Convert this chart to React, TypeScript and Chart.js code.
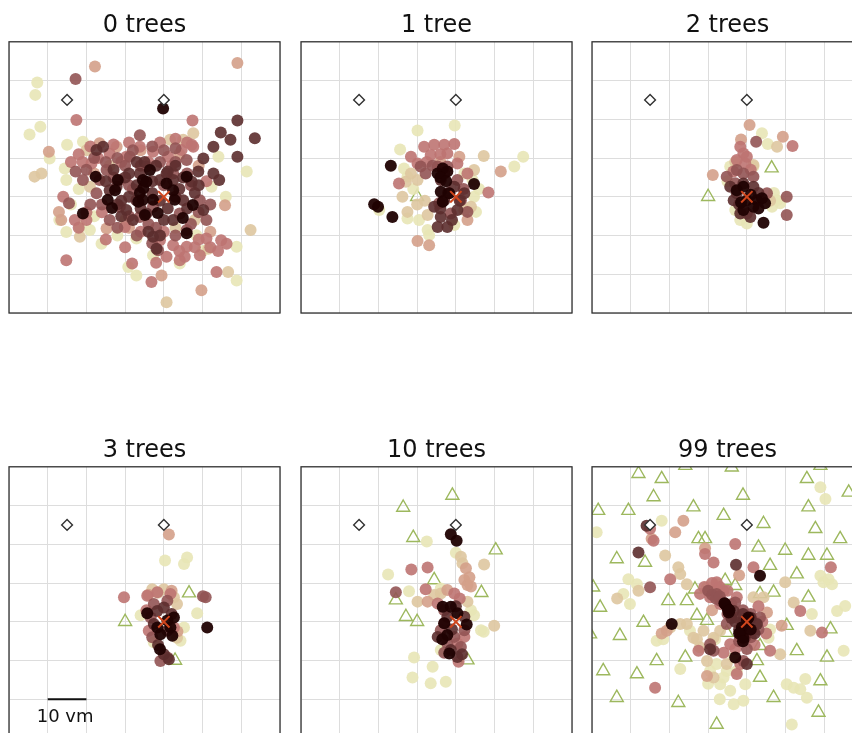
import React, { useEffect, useRef } from 'react';
import { Chart, registerables } from 'chart.js';

Chart.register(...registerables);

type Pt = number[];

// ---- fixed markers (same in every panel) ----
const FEEDERS: Pt[] = [[-25, 25], [0, 25]];
const TARGET: Pt[] = [[0, 0]];

// ---- scale bar (panel "3 trees") ----
const SCALE_BAR: Pt[] = [[-30, -20], [-20, -20]];
const SCALE_LABEL = '10 vm';
const SCALE_LABEL_POS: Pt = [-25.5, -25.8];

// ---- titles ----
const TITLES = ['0 trees', '1 tree', '2 trees', '3 trees', '10 trees', '99 trees'];

// ---- tree positions ----
const TREES_0: Pt[] = [];
const TREES_1: Pt[] = [[-10, 0]];
const TREES_2: Pt[] = [[-10, 0], [6.4, 7.4]];
const TREES_3: Pt[] = [[-10, 0], [6.5, 7.4], [2.9, -10]];
const TREES_10: Pt[] = [[-10, 0], [6.6, 7.5], [3, -9.9], [-0.9, 32.6], [-13.6, 29.5], [-11, 21.7], [10.3, 18.5], [-5.6, 10.8], [-15.5, 5.6], [-12.9, 1.3]];
const TREES_99: Pt[] = [
  [-28, 38.2], [-22, 36.9], [-15.9, 40.3], [-3.9, 39.9], [15.5, 36.9], [19, 40.3], [26.3, 33.4], [-24.1, 32.2], [-1, 32.6],
  [-38.4, 28.7], [-30.6, 28.7], [-13.8, 29.6], [-6, 27.4], [15.9, 29.6], [4.3, 25.3], [17.7, 24], [-12.5, 21.4], [-10.8, 21.4],
  [24.1, 21.4], [3, 19.2], [9.9, 18.4], [15.9, 17.1], [20.7, 17.1], [-33.6, 16.2], [-26.3, 15.3], [6, 14.5], [12.9, 12.3],
  [-39.7, 8.9], [-5.6, 10.6], [-3, 9.3], [-13.4, 8.4], [3.4, 7.2], [6.9, 7.6], [15.9, 6.3], [-37.9, 3.7], [-20.3, 5.4],
  [-15.5, 5.4], [-12.9, 1.6], [-10.3, 0.3], [-26.7, -0.2], [10.3, -1], [21.6, -1.9], [-32.8, -3.6], [-40.5, -3.2], [-5.2, -2.8],
  [3.4, -6.2], [12.9, -7.5], [-15.9, -9.2], [-23.3, -10.1], [2.6, -10.1], [20.7, -9.2], [-37.1, -12.7], [-28.4, -13.5],
  [3.4, -14.4], [19, -15.3], [-33.6, -19.6], [-17.7, -20.9], [6.9, -19.6], [18.5, -23.4], [-7.8, -26.5]
];

// ---- position samples, by colour level (L0 lightest ... L6 darkest) ----
// 0 trees
const P0_L0: Pt[] = [[-32.7, 29.5], [-33.2, 26.3], [-34.7, 16.1], [-31.9, 18.1], [-25, 13.4], [-29.5, 9.9], [-20.9, 14.2], [-25.6, 7.3], [-25.2, 4.3], [-25.2, -9.1], [-21.7, -7.8], [-16.1, -12.1], [-7.1, -10.8], [-9.2, -18.1], [-7.1, -20.3], [18.8, -21.6], [18.8, -12.9], [21.4, 6.5], [12.3, 2.6], [14.1, 10.3], [4.1, -17.2], [-19.1, -8.6], [8.4, -9.9], [-2.8, -15.1], [-22, 2], [-18, -5], [-12, -10], [10, -14], [16, 0], [-24, -2], [-27, -6]];
const P0_L1: Pt[] = [[-33.4, 5.2], [-31.6, 6], [-19.1, 2.6], [-20, 12], [11.5, -13.4], [7.6, 16.4], [1.6, 14.7], [5, 14.7], [-21.7, -10.3], [0.7, -27.2], [16.6, -19.4], [22.4, -8.6], [-14, 8], [-10, -6], [8, -6], [3, -8]];
const P0_L2: Pt[] = [[-17.8, 33.6], [19, 34.5], [-29.7, 11.6], [-27.1, -3.9], [-26.5, -6], [-14.8, -8.2], [-0.6, -20.3], [9.7, -24.1], [15.8, -2.2], [-16.6, 13.8], [-12.2, 12.9], [-6, 12], [4, 11], [9, 8], [-18, 6], [-9, -8], [12, -9]];
const P0_L3: Pt[] = [[-22.6, 19.8], [-25.2, -16.4], [-8.2, -17.2], [-3.2, -22], [7.4, 19.7], [7.2, 13.4], [4.1, -16.4], [5.4, -15.5], [9.3, -15.1], [13.6, -19.4], [16.2, -12.1], [14.8, -11.2], [11, -10.8], [-10.1, -7.8], [-14, 11.2], [-9.7, 10.3], [-6.2, 12.9], [-2.8, 11.6], [1.1, 10.3], [4.6, 12.1], [7.6, 12.9], [-1, -11.2], [2.4, -12.5], [5.9, -12.9], [0.7, -15.5], [-18.7, 8.6], [-21, 9], [-17, 10], [-11, 9], [-4, 9], [2, 8], [-20, -6], [-16, -4], [-6, -9], [0, -9], [9, -11], [11, 4], [-23, -6], [-19, 13], [-13, 13.5], [-9, 14], [-1, 14], [3, 15], [6, 14], [-22, 11], [-24, 9], [-22, -8], [-15, -11], [-10, -13], [-2, -17], [4, -14], [8, -13], [12, -13], [14, -14], [-26, 0], [-20, -4]];
const P0_L4: Pt[] = [[-22.8, 30.4], [-6.2, 15.9], [-22.8, 6.5], [-24.5, -1.7], [-1.5, -13.8], [-17.4, 0.9], [-20.9, 4.3], [-14.8, 6.9], [-11.4, 4.3], [-8.8, 10.3], [-4.5, 7.8], [2.4, 6], [5.9, 9.5], [9.3, -0.9], [11, -6], [5.9, -8.6], [-6.2, -5.2], [-11.4, -2.6], [-14, -6], [-16.6, 4.3], [-2.8, -2.6], [4.1, -4.3], [-8, 2], [0, 3], [-4, -7], [7, 3], [-10, 8], [-18, 10], [-15, 9], [-12, 10], [-8, 12], [-3, 13], [0, 12], [3, 12.5], [-20, 7], [-13, 5], [-9, 3], [-6, 8], [-1, 9], [3, 9], [6, 6], [-19, -2], [-16, -2], [-9, -5], [-7, -10], [-3, -12], [3, -10], [7, -7], [-12, -8], [9, -4], [12, -2], [-2, -8]];
const P0_L5: Pt[] = [[19, 19.7], [14.7, 16.6], [17.2, 14.7], [23.5, 15.1], [12.8, 12.9], [19, 10.3], [10.2, 9.9], [8.9, 6.5], [12.8, 6], [14.3, 4.3], [7.2, 3.9], [10.2, -3.4], [-2.8, -10.3], [-1.9, -13.4], [-9.7, -3.4], [-7.1, -0.9], [2.4, 4.3], [-1, 4.3], [0.7, 6], [-6.2, 6], [-12.2, 2.6], [-14, 1.7], [-17.4, 12.1], [-15.7, 12.9], [5, -0.9], [2.4, -6], [-4.5, -4.3], [-9, 6], [-3, 1], [-6, -3], [1, -3], [-11, -1], [4, 2], [-7, 3], [-3, 4], [-9, 0], [-10, 5], [-5, 9], [-2, 8], [1, 6.5], [3, 0], [-1, -1], [-8, -6], [-4, -9], [0, -6], [6, -3], [-13, 7], [-15, 4], [8, 1], [-1, -10], [-11, -5], [5, 5], [9, 3], [3, 8], [-7, 9], [-12, -2]];
const P0_L6: Pt[] = [[-0.2, 22.8], [-17.6, 5.2], [-20.9, -4.3], [-11.9, 4.3], [-12.6, 1.7], [-14.5, -0.8], [-13.4, -2.9], [-3.6, 6.9], [-5.4, 4.3], [-5.3, 2.2], [-6.2, 1], [-5.4, -0.8], [-2.8, -0.8], [-1.6, -4.2], [2.8, -0.8], [7.5, -2.1], [4.9, -5.5], [-4.9, -4.7], [5.9, -9.4], [0.7, 3.4], [2.4, 1.7], [5.9, 5.2], [-4.5, 3.9], [-6.6, -1.3]];

// 1 tree
const P1_L0: Pt[] = [[-9.9, 17.1], [-0.3, 18.4], [-14.4, 12.2], [17.4, 10.3], [15.1, 7.8], [-13.4, 7.3], [-12.5, 5.2], [4.3, 4.3], [4.7, 0], [5.2, -3.9], [-19.8, -3.4], [-12.5, -5.6], [-9.5, -6], [-7.3, -8.6], [-6.9, -9.9], [-0.4, -7.3], [2.2, 6], [-11, 2], [6, 2]];
const P1_L1: Pt[] = [[7.2, 10.5], [4.7, 6.9], [-12.9, 3.9], [-13.8, 0], [-12.5, -3.9], [-7.3, -4.7], [-9.9, 4.3], [-11.6, 6], [2.2, -3.4], [3.9, -2.6], [-10, -2], [-8, -1]];
const P1_L2: Pt[] = [[11.6, 6.5], [-9.9, -11.4], [-6.9, -12.5], [0.9, 10.3], [-4, 9], [3, -6]];
const P1_L3: Pt[] = [[-14.7, 3.4], [8.4, 1.1], [-8.2, 12.9], [-5.6, 13.4], [-3, 13.4], [-0.4, 13.6], [-6.5, 10.8], [-11.6, 10.3], [-9.9, 8.6], [3, 6], [-2.2, 11.2], [0.4, 8.6], [-7.5, 9], [-4, 11]];
const P1_L4: Pt[] = [[3, -3.9], [-9.1, 7.8], [-7.8, 6], [-4.7, 7.8], [-2.2, 7.8], [0.4, 4.3], [-1.3, -4.3], [-4.3, -1.7], [1.3, -0.9], [-6, 8], [2, 2]];
const P1_L5: Pt[] = [[-3.9, 4.3], [-3, -0.9], [-3.9, -5.2], [-2.2, -7.8], [-4.7, -7.8], [0.4, -3.4], [2.2, 0.9], [-0.4, 2.6], [-5.6, -2.6], [-3, 6], [-1, -6], [-4, -3], [1, -1], [-2, 1]];
const P1_L6: Pt[] = [[-16.8, 8], [-21.1, -1.9], [-20.1, -2.6], [-16.4, -5.2], [4.7, 3.3], [-4.7, 6], [-3.4, 7.3], [-2.2, 6.5], [-3.9, 1.3], [-1.7, 0.9], [-3.4, -1.3], [-4, 5], [-2.5, 4]];

// 2 trees
const P2_L0: Pt[] = [[3.9, 16.4], [5.4, 13.6], [1.7, 7.8], [7.8, -0.9], [8.6, -1.7], [-1.7, -6], [0, -6.9], [-3, -3.4], [6.5, -2.6], [-4.3, 7.8], [-5, 4], [7, 1]];
const P2_L1: Pt[] = [[7.8, 12.9], [1.7, 8.2], [-3, 9], [6, -1]];
const P2_L2: Pt[] = [[9.3, 15.5], [-8.8, 5.6], [0.7, 18.5], [-1.5, 14.8]];
const P2_L3: Pt[] = [[11.8, 13.1], [-0.9, 11.2], [-2.6, 9.5], [-0.4, 8.6], [-1.7, 12.9], [0, 10.3], [-3.5, 6.5], [1, 7]];
const P2_L4: Pt[] = [[2.4, 14.2], [10.3, 0], [10.3, -4.7], [-5.2, 5.2], [-2.6, 6.9], [-0.9, 6], [1.7, 5.2], [5.2, 0.9], [0, -4.3], [-3, 3.5]];
const P2_L5: Pt[] = [[-4.3, 2.6], [-2.6, 0.9], [-3.4, -0.9], [-0.9, 3.4], [1.7, 2.6], [-1.7, -4.3], [0.9, -5.2], [-2, -2], [3, 1]];
const P2_L6: Pt[] = [[4.3, -6.7], [-0.9, 2.6], [-2.6, 1.7], [0, -0.9], [2.6, -0.9], [4.7, -1.7], [1.7, -2.6], [-0.9, -3.4], [3.9, -0.4], [1, 0.5], [-1.5, -1.5], [3, -3]];

// 3 trees
const P3_L0: Pt[] = [[0.3, 15.8], [6, 16.6], [5.2, 14.9], [8.6, 2.2], [-6, 1.7], [-2.6, -5.3], [4.3, -4.9], [5.2, -1.5]];
const P3_L1: Pt[] = [[-3, 8.4], [0, 8.4], [2.6, 6.3], [3.4, 4.6], [3.4, -4.1], [-1.5, 7.5]];
const P3_L2: Pt[] = [[1.3, 22.5], [2, 8], [-4, 7], [3.5, -2.5]];
const P3_L3: Pt[] = [[-10.3, 6.3], [-4.3, 6.7], [-1.7, 7.6], [1.7, 7.2], [-3.9, -2.3], [2.6, -1.5], [-4.5, 3]];
const P3_L4: Pt[] = [[10.1, 6.6], [10.8, 6.3], [-2.6, 4.6], [0.9, 5.4], [-0.9, -10.1], [0.9, -9.2], [-3.4, 1.1], [-3, -4]];
const P3_L5: Pt[] = [[-1.7, 2.8], [0, 3.7], [-2.6, -0.6], [0.9, -2.3], [0, -8.4], [1.3, -9.7], [-1.5, -6], [2, 2]];
const P3_L6: Pt[] = [[-4.3, 2.2], [11.2, -1.5], [-1, -7.1], [2.6, 1.1], [1.7, -1.5], [-0.9, -3.2], [2.2, -3.6], [0.9, 0.3], [-1.7, -1.5]];

// 10 trees
const P4_L0: Pt[] = [[-7.5, 20.7], [-17.5, 12.2], [0, 17.8], [-12.1, 7.9], [-3.9, 8.6], [4.7, 1.7], [6.5, -2.2], [7.2, -2.6], [-10.8, -9.2], [-6, -11.6], [-11.2, -14.4], [-6.5, -15.9], [-2.6, -15.5], [-3.9, -7.3], [3.9, 3]];
const P4_L1: Pt[] = [[7.3, 14.8], [9.9, -1], [1.3, 16.8], [1.7, 15.1], [-9.9, 5.2], [-5.6, 6.9], [-3.9, 7.3], [3, 5.2]];
const P4_L2: Pt[] = [[2.6, 13.8], [2.2, 10.8], [3, 9.5], [3.9, 9.1], [-7.3, 5.2], [-2.2, 8.2], [3.5, 11.5]];
const P4_L3: Pt[] = [[-11.5, 13.5], [-7.3, 14], [-7.8, 8.4], [-0.4, 7.3], [-4.7, 4.7], [0.4, -5.6], [0.7, -10.3], [2.2, -3.9], [1, 6]];
const P4_L4: Pt[] = [[-15.5, 7.6], [-3, 3], [-3.9, -2.2], [-2.2, -5.6], [1.3, -6.5], [-0.4, -3.9], [2.2, -2.2], [-3, -0.4], [-3, -8]];
const P4_L5: Pt[] = [[1.6, -8.4], [0.4, -9.1], [-2.2, 1.3], [2.2, 1.3], [-4.7, -3.9], [-1.3, -7.3], [-1, -2], [0, 4]];
const P4_L6: Pt[] = [[-1.3, 22.6], [0.2, 20.9], [-3.4, 3.9], [-1.3, 3.9], [-3, -0.4], [2.8, -0.7], [-2.2, -3.4], [-1.7, -8.2], [0.4, 2.2], [-3.5, -4.5]];

// 99 trees
const P5_L0: Pt[] = [[19, 34.7], [20.3, 31.7], [-38.8, 23.1], [-22, 26.1], [19, 11.9], [21.1, 11], [22, 9.7], [19.8, 10.2], [23.3, 2.8], [25.4, 4.1], [16.8, 2], [25, -7.5], [5.6, -4.1], [-23.3, -4.9], [-21.6, -4.5], [-17.2, -12.2], [-7.8, -10.9], [-5.2, -12.7], [-6.9, -16.1], [-4.3, -17.8], [-3.4, -21.3], [-0.9, -20.4], [-0.4, -16.1], [11.6, -26.5], [10.3, -16.1], [13.8, -17.4], [15.5, -19.6], [15.1, -14.8], [12.1, -17], [-30.6, 11], [-28.4, 9.7], [-31.9, 7.2], [-30.2, 4.6], [-8.2, -4.5], [-14.7, -2.3], [-9.5, -12.7], [-6, -14.4], [-2.6, -12.7], [-3.4, -9.2], [-7, -20], [-10, -16], [6, -2]];
const P5_L1: Pt[] = [[-21.1, 17.1], [-17.7, 14.1], [-17.2, 12.3], [-15.5, 9.7], [9.9, 10.2], [12.1, 5], [16.4, -2.3], [1.7, 6.3], [4.3, 6.3], [-8.6, -4.1], [-12.9, -4.5], [-10.3, -10.1], [-8.6, -14.4], [-5.2, -10.9], [-19.8, -1.5], [-17.2, -0.6], [-15.5, -0.6], [-11.2, -2.3], [-6.9, -2.3], [-12.1, -6.6], [-13.8, -4.1], [-10.3, 8.9], [-7.8, 9.7], [-33.5, 6], [-28, 8], [8.6, -8.4]];
const P5_L2: Pt[] = [[-16.4, 26.1], [-18.5, 23.1], [-24.6, 21.4], [5.2, 2.4], [-10.3, -14], [-20.7, -2.3], [-22, -3], [-10.8, 19], [-2, 12], [9, -1], [-9, 3]];
const P5_L3: Pt[] = [[-3, 20.1], [-10.8, 17.5], [-8.6, 15.3], [-19.8, 11], [13.8, 2.8], [19.4, -2.8], [21.7, 14.1], [-23.7, -17], [-2.6, -13.5], [-12.5, -7.5], [6, -7.5], [1.7, 14.1], [-7.8, 10.2], [-24.1, 20.9], [-9.5, 6.3], [-6.9, 4.6], [-2.6, 6.3], [0, -4.1], [-4.3, -5.8], [-12.1, 7.2], [-1.7, -10.9], [-25, 24], [-6, 8], [-11, 9], [-9, 10], [-7, 9], [-5, 8], [3, 4], [4, 0], [5, -3], [2, -6], [-3, -7], [-6, -8]];
const P5_L4: Pt[] = [[-25, 8.9], [-9.5, -5.8], [-8.6, -7.5], [-0.9, -10.1], [-6.9, 5.4], [-4.3, 3.7], [-2.6, 1.1], [1.7, -1.5], [-1.7, -4.1], [-5.2, -0.6], [-7.8, 7.2], [3.4, 1.1], [-5, 2], [0, -7], [-10, 8], [-9, 7], [-8, 6], [-7, 6.5], [-6, 5], [-4, 4.5], [-3, 5], [-1, 3], [1, 2], [2, 0], [-2, -5], [1, -4], [3, -2]];
const P5_L5: Pt[] = [[-28, 17.9], [-2.8, 14.7], [-9.5, -7.1], [0, -10.9], [-3.4, 2.8], [0.9, 1.1], [-0.9, -2.3], [2.6, -0.6], [-25.9, 24.8], [-1, 0], [-3, 0], [-2, -2], [0, -1], [1, 1], [-1, 2], [-4, 1], [2, -3], [-0.5, -4]];
const P5_L6: Pt[] = [[3.4, 11.9], [-19.4, -0.6], [-5.6, 4.6], [-4.7, 2.4], [-1.3, -1.5], [-0.9, -4.1], [-3, -9.2], [-1.7, -2.8], [0.4, 1.1], [-5, 3.5], [-5.8, 4.8], [-4.5, 3], [-2, -3], [-1, -5], [0, 0.5], [1, -2]];

const LEVEL_COLORS = [
  'rgba(232,230,182,0.9)',
  'rgba(222,198,160,0.9)',
  'rgba(212,160,138,0.9)',
  'rgba(190,116,114,0.9)',
  'rgba(146,84,84,0.9)',
  'rgba(92,46,46,0.9)',
  'rgba(32,2,2,0.95)'
];

const PANEL_LEVELS: Pt[][][] = [
  [P0_L0, P0_L1, P0_L2, P0_L3, P0_L4, P0_L5, P0_L6],
  [P1_L0, P1_L1, P1_L2, P1_L3, P1_L4, P1_L5, P1_L6],
  [P2_L0, P2_L1, P2_L2, P2_L3, P2_L4, P2_L5, P2_L6],
  [P3_L0, P3_L1, P3_L2, P3_L3, P3_L4, P3_L5, P3_L6],
  [P4_L0, P4_L1, P4_L2, P4_L3, P4_L4, P4_L5, P4_L6],
  [P5_L0, P5_L1, P5_L2, P5_L3, P5_L4, P5_L5, P5_L6]
];
const PANEL_TREES: Pt[][] = [TREES_0, TREES_1, TREES_2, TREES_3, TREES_10, TREES_99];

const toXY = (a: Pt[]) => a.map(([x, y]) => ({ x, y }));

const boxPlugin = {
  id: 'axesBox',
  afterDraw(chart: any) {
    const { ctx, chartArea: a } = chart;
    ctx.save();
    ctx.strokeStyle = '#333333';
    ctx.lineWidth = 1.3;
    ctx.strokeRect(a.left, a.top, a.right - a.left, a.bottom - a.top);
    ctx.restore();
  }
};

const scaleLabelPlugin = {
  id: 'scaleLabel',
  afterDatasetsDraw(chart: any, _args: any, opts: any) {
    if (!opts || !opts.text) return;
    const { ctx, scales } = chart;
    ctx.save();
    ctx.fillStyle = '#111';
    ctx.font = '18px "DejaVu Sans"';
    ctx.textAlign = 'center';
    ctx.textBaseline = 'alphabetic';
    ctx.fillText(opts.text, scales.x.getPixelForValue(opts.pos[0]), scales.y.getPixelForValue(opts.pos[1]));
    ctx.restore();
  }
};

function buildConfig(i: number): any {
  const datasets: any[] = [];
  datasets.push({
    data: toXY(PANEL_TREES[i]),
    pointStyle: 'triangle',
    pointRadius: 7.5,
    backgroundColor: 'rgba(0,0,0,0)',
    borderColor: '#9db85e',
    borderWidth: 1.4,
    order: 30
  });
  PANEL_LEVELS[i].forEach((pts, k) => {
    datasets.push({
      data: toXY(pts),
      pointStyle: 'circle',
      pointRadius: 6,
      backgroundColor: LEVEL_COLORS[k],
      borderColor: LEVEL_COLORS[k],
      borderWidth: 0,
      order: 20 - k
    });
  });
  datasets.push({
    data: toXY(FEEDERS),
    pointStyle: 'rectRot',
    pointRadius: 5.4,
    backgroundColor: '#ffffff',
    borderColor: '#333333',
    borderWidth: 1.4,
    order: 3
  });
  datasets.push({
    data: toXY(TARGET),
    pointStyle: 'crossRot',
    pointRadius: 8,
    backgroundColor: '#d0461d',
    borderColor: '#d0461d',
    borderWidth: 2,
    order: 2
  });
  if (i === 3) {
    datasets.push({
      data: toXY(SCALE_BAR),
      showLine: true,
      pointRadius: 0,
      borderColor: '#111111',
      borderWidth: 2.2,
      order: 1
    });
  }
  const axis = (min: number, max: number) => ({
    type: 'linear',
    min,
    max,
    ticks: { display: false, stepSize: 10 },
    grid: { color: '#dddddd', lineWidth: 1, drawTicks: false },
    border: { display: false }
  });
  return {
    type: 'scatter',
    data: { datasets },
    options: {
      animation: false,
      responsive: false,
      events: [],
      layout: { autoPadding: false, padding: { left: 2, right: 2, top: 0, bottom: 2 } },
      plugins: {
        legend: { display: false },
        tooltip: { enabled: false },
        title: {
          display: true,
          text: TITLES[i],
          color: '#111111',
          font: { family: '"DejaVu Sans"', size: 24, weight: 'normal' },
          padding: { top: 11, bottom: 2 }
        },
        scaleLabel: i === 3 ? { text: SCALE_LABEL, pos: SCALE_LABEL_POS } : {}
      },
      scales: { x: axis(-40, 30), y: axis(-30, 40) }
    },
    plugins: [boxPlugin, scaleLabelPlugin]
  };
}

const CANVAS_W = 275;
const CANVAS_H = 315;
const COL_LEFT = [7, 299, 590];
const ROW_TOP = [0, 425];

function Panel({ index }: { index: number }) {
  const ref = useRef<HTMLCanvasElement>(null);
  useEffect(() => {
    const chart = new Chart(ref.current as HTMLCanvasElement, buildConfig(index));
    return () => chart.destroy();
  }, [index]);
  const left = COL_LEFT[index % 3];
  const top = ROW_TOP[Math.floor(index / 3)];
  return (
    <canvas
      ref={ref}
      width={CANVAS_W}
      height={CANVAS_H}
      style={{ position: 'absolute', left, top, width: CANVAS_W, height: CANVAS_H }}
    />
  );
}

export default function App() {
  return (
    <div
      style={{
        position: 'fixed',
        left: 0,
        top: 0,
        width: 852,
        height: 733,
        overflow: 'hidden',
        background: '#ffffff'
      }}
    >
      {[0, 1, 2, 3, 4, 5].map((i) => (
        <Panel key={i} index={i} />
      ))}
    </div>
  );
}
